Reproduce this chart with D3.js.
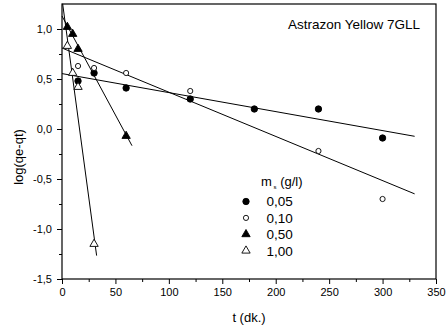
<!DOCTYPE html>
<html>
<head>
<meta charset="utf-8">
<script src="https://cdn.jsdelivr.net/npm/d3@7"></script>
<style>
  body { margin: 0; background: #fff; }
  text { font-family: "Liberation Sans", Arial, sans-serif; fill: #000; }
</style>
</head>
<body>
<div id="chart"></div>
<script>
// data
var seriesNames = ["0,05", "0,10", "0,50", "1,00"];
var times005 = [15, 30, 60, 120, 180, 240, 300];
var vals005 = [0.48, 0.56, 0.41, 0.30, 0.20, 0.20, -0.09];
var times010 = [15, 30, 60, 120, 240, 300];
var vals010 = [0.63, 0.61, 0.56, 0.38, -0.22, -0.70];
var times050 = [5, 10, 15, 60];
var vals050 = [1.02, 0.95, 0.80, -0.07];
var times100 = [5, 10, 15, 30];
var vals100 = [0.83, 0.56, 0.42, -1.15];

// fitted lines: intercept, slope, start and end time
var fitIntercept = [0.554, 0.81, 1.13, 1.30];
var fitSlope = [-0.0019, -0.00442, -0.0198, -0.0792];
var fitStart = [0, 0, 0, 0.6];
var fitEnd = [330, 330, 65.5, 32.4];

var xTicks = [0, 50, 100, 150, 200, 250, 300, 350];
var yTicks = [-1.5, -1.0, -0.5, 0.0, 0.5, 1.0];

var svgWidth = 446;
var svgHeight = 332;
var margin = { top: 4, right: 10, bottom: 53, left: 62 };
var width = 374;
var height = 275;

var svg = d3.select("#chart").append("svg")
  .attr("width", svgWidth)
  .attr("height", svgHeight);

var chartGroup = svg.append("g")
  .attr("transform", `translate(${margin.left}, ${margin.top})`);

var xScale = d3.scaleLinear().domain([0, 350]).range([0, width]);
var yScale = d3.scaleLinear().domain([-1.5, 1.25]).range([height, 0]);

var fmt = d => d3.format(".1f")(d).replace(".", ",").replace("\u2212", "-");

// axes with outward ticks, minor ticks between majors
var xMinor = d3.range(25, 350, 50);
var yMinor = d3.range(-1.25, 1.25, 0.5);

chartGroup.append("g")
  .attr("transform", `translate(0, ${height})`)
  .call(d3.axisBottom(xScale).tickValues(xMinor).tickSize(3).tickFormat(""));
chartGroup.append("g")
  .attr("transform", `translate(0, ${height})`)
  .call(d3.axisBottom(xScale).tickValues(xTicks).tickSize(5).tickPadding(4).tickFormat(d3.format("d")));

chartGroup.append("g")
  .call(d3.axisLeft(yScale).tickValues(yMinor).tickSize(3).tickFormat(""));
chartGroup.append("g")
  .call(d3.axisLeft(yScale).tickValues(yTicks).tickSize(5).tickPadding(5).tickFormat(fmt));

chartGroup.selectAll(".domain").remove();
chartGroup.selectAll(".tick line").attr("stroke", "#000");
chartGroup.selectAll(".tick text")
  .style("font-size", "11px")
  .style("font-family", "'Liberation Sans', Arial, sans-serif");

// frame
chartGroup.append("rect")
  .attr("x", 0).attr("y", 0)
  .attr("width", width).attr("height", height)
  .attr("fill", "none")
  .attr("stroke", "#000")
  .attr("stroke-width", 1.2);

// fitted lines
fitIntercept.forEach(function(b, i) {
  chartGroup.append("line")
    .attr("x1", xScale(fitStart[i]))
    .attr("y1", yScale(b + fitSlope[i] * fitStart[i]))
    .attr("x2", xScale(fitEnd[i]))
    .attr("y2", yScale(b + fitSlope[i] * fitEnd[i]))
    .attr("stroke", "#000")
    .attr("stroke-width", 1);
});

var tri = d3.symbol().type(d3.symbolTriangle).size(30);

function drawSeries(times, vals, kind) {
  var pts = times.map((t, i) => ({ t: t, v: vals[i] }));
  if (kind === "fc" || kind === "oc") {
    chartGroup.selectAll(null)
      .data(pts)
      .enter()
      .append("circle")
      .attr("cx", d => xScale(d.t))
      .attr("cy", d => yScale(d.v))
      .attr("r", kind === "fc" ? 3.2 : 2.6)
      .attr("fill", kind === "fc" ? "#000" : "#fff")
      .attr("stroke", "#000")
      .attr("stroke-width", 0.9);
  } else {
    chartGroup.selectAll(null)
      .data(pts)
      .enter()
      .append("path")
      .attr("d", tri)
      .attr("transform", d => `translate(${xScale(d.t)}, ${yScale(d.v)})`)
      .attr("fill", kind === "ft" ? "#000" : "#fff")
      .attr("stroke", "#000")
      .attr("stroke-width", 0.9);
  }
}

drawSeries(times005, vals005, "fc");
drawSeries(times010, vals010, "oc");
drawSeries(times050, vals050, "ft");
drawSeries(times100, vals100, "ot");

// title inside the plot
svg.append("text")
  .attr("x", 420)
  .attr("y", 29)
  .attr("text-anchor", "end")
  .style("font-size", "13.5px")
  .text("Astrazon Yellow 7GLL");

// legend
var legend = svg.append("g");
var head = legend.append("text")
  .attr("x", 261)
  .attr("y", 186)
  .style("font-size", "13px");
head.append("tspan").text("m");
head.append("tspan").attr("dy", 3).style("font-size", "6px").text(" s");
head.append("tspan").attr("dy", -3).text(" (g/l)");

var kinds = ["fc", "oc", "ft", "ot"];
seriesNames.forEach(function(name, i) {
  var cy = 201.5 + i * 16.4;
  var k = kinds[i];
  if (k === "fc" || k === "oc") {
    legend.append("circle")
      .attr("cx", 246).attr("cy", cy)
      .attr("r", k === "fc" ? 3.2 : 2.6)
      .attr("fill", k === "fc" ? "#000" : "#fff")
      .attr("stroke", "#000")
      .attr("stroke-width", 0.9);
  } else {
    legend.append("path")
      .attr("d", tri)
      .attr("transform", `translate(246, ${cy})`)
      .attr("fill", k === "ft" ? "#000" : "#fff")
      .attr("stroke", "#000")
      .attr("stroke-width", 0.9);
  }
  legend.append("text")
    .attr("x", 266.5)
    .attr("y", cy + 4.8)
    .style("font-size", "13.5px")
    .text(name);
});

// axis titles
svg.append("text")
  .attr("x", margin.left + width / 2)
  .attr("y", 322)
  .attr("text-anchor", "middle")
  .style("font-size", "13px")
  .text("t (dk.)");

svg.append("text")
  .attr("transform", "translate(23, 157) rotate(-90)")
  .attr("text-anchor", "middle")
  .style("font-size", "13px")
  .text("log(qe-qt)");
</script>
</body>
</html>
